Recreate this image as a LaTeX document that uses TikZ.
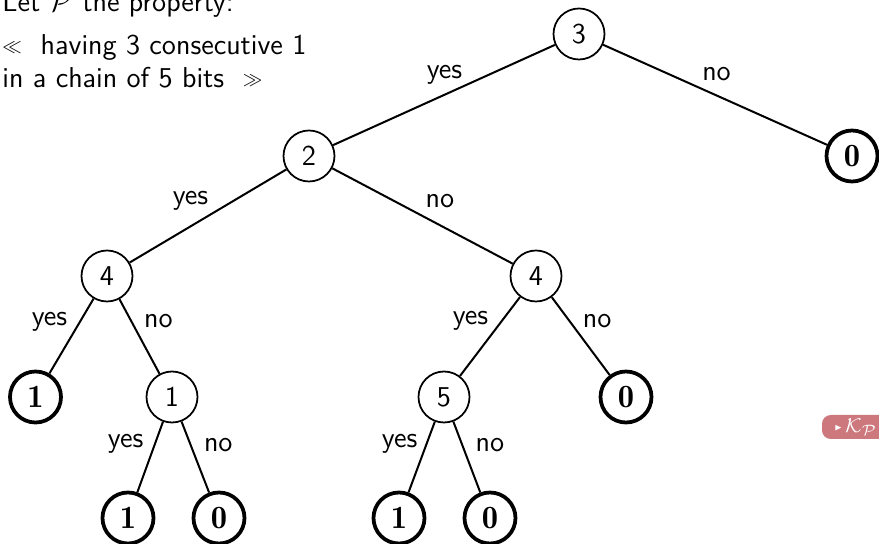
\documentclass[tikz,border=0pt]{standalone}
\usepackage{amssymb}
\usepackage{fontspec}
\newcommand{\opq}{\raisebox{1.0pt}{\scalebox{0.65}{$\ll$}}}
\newcommand{\clq}{\raisebox{1.0pt}{\scalebox{0.65}{$\gg$}}}
\begin{document}
\begin{tikzpicture}[x=0.4pt,y=-0.4pt,
  every node/.style={font=\fontsize{11.5}{13.2}\selectfont\sffamily},
  inner/.style={circle,draw,line width=0.7pt,minimum size=20.4pt,inner sep=0pt},
  leaf/.style={circle,draw,line width=1.5pt,minimum size=20.4pt,inner sep=0pt,
    font=\fontsize{13}{15}\selectfont},
  edge/.style={line width=0.8pt},
  lbl/.style={midway,inner sep=0pt}]
\useasboundingbox (0,0) rectangle (879,544);

% heading text
\node[anchor=base west,inner sep=0pt] (t1) at (2,12) {Let $\mathcal{P}$ the property:};
\node[anchor=base west,inner sep=0pt] (t2) at (2,55) {\opq\ \ having 3 consecutive 1};
\node[anchor=base west,inner sep=0pt] (t3) at (2,88) {in a chain of 5 bits \ \clq};

% decision nodes
\node[inner] (n3) at (579,34) {3};
\node[inner] (n2) at (309,156) {2};
\node[inner] (n4a) at (107,276) {4};
\node[inner] (n4b) at (536,276) {4};
\node[inner] (n1) at (172,397) {1};
\node[inner] (n5) at (444,397) {5};

% leaves
\node[leaf] (z1) at (852,156) {$\mathbf{0}$};
\node[leaf] (o1) at (35.5,397) {$\mathbf{1}$};
\node[leaf] (z2) at (626,397) {$\mathbf{0}$};
\node[leaf] (o2) at (128,518) {$\mathbf{1}$};
\node[leaf] (z3) at (219,518) {$\mathbf{0}$};
\node[leaf] (o3) at (399,518) {$\mathbf{1}$};
\node[leaf] (z4) at (490,518) {$\mathbf{0}$};

% branches
\draw[edge] (n3) -- node[lbl,shift={(0.5,-20.5)}] {yes} (n2);
\draw[edge] (n3) -- node[lbl,shift={(1.5,-21)}] {no} (z1);
\draw[edge] (n2) -- node[lbl,shift={(-17.5,-15)}] {yes} (n4a);
\draw[edge] (n2) -- node[lbl,shift={(17.5,-15)}] {no} (n4b);
\draw[edge] (n4a) -- node[lbl,shift={(-22,-14)}] {yes} (o1);
\draw[edge] (n4a) -- node[lbl,shift={(19,-15)}] {no} (n1);
\draw[edge] (n4b) -- node[lbl,shift={(-19.5,-15.5)}] {yes} (n5);
\draw[edge] (n4b) -- node[lbl,shift={(16.5,-15)}] {no} (z2);
\draw[edge] (n1) -- node[lbl,shift={(-24.5,-13)}] {yes} (o2);
\draw[edge] (n1) -- node[lbl,shift={(23,-12)}] {no} (z3);
\draw[edge] (n5) -- node[lbl,shift={(-22,-13)}] {yes} (o3);
\draw[edge] (n5) -- node[lbl,shift={(23,-12)}] {no} (z4);

% navigation button
\definecolor{btnred}{RGB}{205,120,125}
\fill[btnred,rounded corners=3.5pt] (822,415) rectangle (900,439);
\node[text=white,font=\fontsize{8.5}{10}\selectfont,inner sep=0pt,anchor=west] (btn) at (834,427)
  {\raisebox{0.8pt}{\scalebox{0.45}{$\blacktriangleright$}}\,$\mathcal{K}_{\mathcal{P}}$};
\end{tikzpicture}
\end{document}
